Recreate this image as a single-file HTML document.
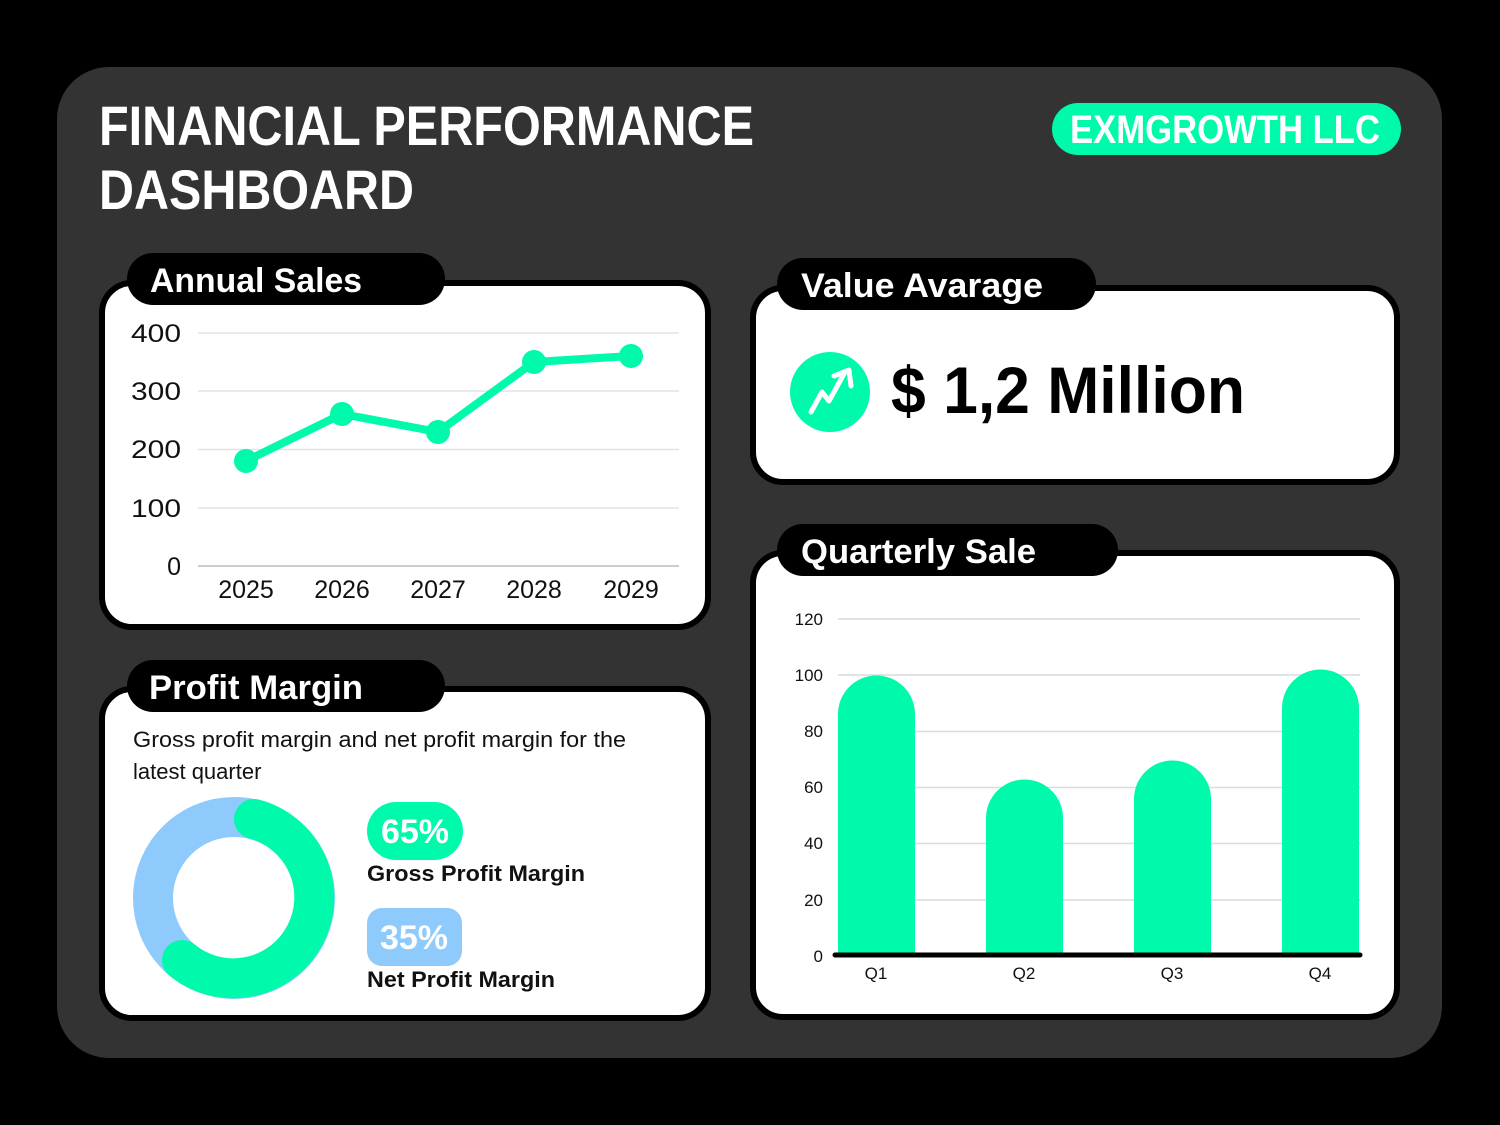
<!DOCTYPE html>
<html><head><meta charset="utf-8"><style>
html,body{margin:0;padding:0;background:#000;}
svg{display:block}
text{font-family:"Liberation Sans",sans-serif;}
</style></head><body>
<svg width="1500" height="1125" viewBox="0 0 1500 1125" xmlns="http://www.w3.org/2000/svg">
<rect x="0" y="0" width="1500" height="1125" fill="#000"/>
<rect x="57" y="67" width="1385" height="991" rx="52" fill="#333333"/>
<!-- header -->
<text x="99" y="145" fill="#fff" font-size="56" font-weight="bold" textLength="655" lengthAdjust="spacingAndGlyphs">FINANCIAL PERFORMANCE</text>
<text x="99" y="209" fill="#fff" font-size="56" font-weight="bold" textLength="315" lengthAdjust="spacingAndGlyphs">DASHBOARD</text>
<rect x="1052" y="103" width="349" height="52" rx="26" fill="#00faab"/>
<text x="1070" y="143" fill="#fff" font-size="40" font-weight="bold" textLength="310" lengthAdjust="spacingAndGlyphs">EXMGROWTH LLC</text>

<!-- Annual Sales card -->
<rect x="102" y="283" width="606" height="344" rx="30" fill="#fff" stroke="#000" stroke-width="6"/>
<rect x="127" y="253" width="318" height="52" rx="26" fill="#000"/>
<text x="150" y="292" fill="#fff" font-size="34" font-weight="bold" textLength="212" lengthAdjust="spacingAndGlyphs">Annual Sales</text>
<g stroke="#e3e3e3" stroke-width="1.5">
<line x1="198" y1="333" x2="679" y2="333"/>
<line x1="198" y1="391" x2="679" y2="391"/>
<line x1="198" y1="449.5" x2="679" y2="449.5"/>
<line x1="198" y1="508" x2="679" y2="508"/>
</g>
<line x1="198" y1="566" x2="679" y2="566" stroke="#bbb" stroke-width="1.5"/>
<g fill="#111" font-size="25" text-anchor="end">
<text x="181" y="342" textLength="50" lengthAdjust="spacingAndGlyphs">400</text><text x="181" y="400" textLength="50" lengthAdjust="spacingAndGlyphs">300</text><text x="181" y="458" textLength="50" lengthAdjust="spacingAndGlyphs">200</text><text x="181" y="517" textLength="50" lengthAdjust="spacingAndGlyphs">100</text><text x="181" y="575">0</text>
</g>
<g fill="#111" font-size="25" text-anchor="middle">
<text x="246" y="598">2025</text><text x="342" y="598">2026</text><text x="438" y="598">2027</text><text x="534" y="598">2028</text><text x="631" y="598">2029</text>
</g>
<polyline points="246,461 342,414 438,432 534,362 631,356" fill="none" stroke="#00faab" stroke-width="8" stroke-linejoin="round"/>
<g fill="#00faab">
<circle cx="246" cy="461" r="12"/><circle cx="342" cy="414" r="12"/><circle cx="438" cy="432" r="12"/><circle cx="534" cy="362" r="12"/><circle cx="631" cy="356" r="12"/>
</g>

<!-- Profit Margin card -->
<rect x="102" y="689" width="606" height="329" rx="30" fill="#fff" stroke="#000" stroke-width="6"/>
<rect x="127" y="660" width="318" height="52" rx="26" fill="#000"/>
<text x="149" y="699" fill="#fff" font-size="34" font-weight="bold" textLength="214" lengthAdjust="spacingAndGlyphs">Profit Margin</text>
<text x="133" y="747" fill="#111" font-size="22" textLength="493" lengthAdjust="spacingAndGlyphs">Gross profit margin and net profit margin for the</text>
<text x="133" y="779" fill="#111" font-size="22">latest quarter</text>
<circle cx="234" cy="898" r="81" fill="none" stroke="#8ecafc" stroke-width="40"/>
<path d="M 254 819 A 81 81 0 1 1 182 960" fill="none" stroke="#00faab" stroke-width="40" stroke-linecap="round"/>
<rect x="367" y="802" width="96" height="58" rx="29" fill="#00faab"/>
<text x="415" y="843" fill="#fff" font-size="34" font-weight="bold" text-anchor="middle">65%</text>
<text x="367" y="881" fill="#111" font-size="22" font-weight="bold" textLength="218" lengthAdjust="spacingAndGlyphs">Gross Profit Margin</text>
<rect x="367" y="908" width="95" height="58" rx="15" fill="#8ecafc"/>
<text x="414" y="949" fill="#fff" font-size="34" font-weight="bold" text-anchor="middle">35%</text>
<text x="367" y="987" fill="#111" font-size="22" font-weight="bold" textLength="188" lengthAdjust="spacingAndGlyphs">Net Profit Margin</text>

<!-- Value card -->
<rect x="753" y="288" width="644" height="194" rx="30" fill="#fff" stroke="#000" stroke-width="6"/>
<rect x="777" y="258" width="319" height="52" rx="26" fill="#000"/>
<text x="801" y="297" fill="#fff" font-size="34" font-weight="bold" textLength="242" lengthAdjust="spacingAndGlyphs">Value Avarage</text>
<circle cx="830" cy="392" r="40" fill="#00faab"/>
<polyline points="811,412 822,392 829,401 845,372" fill="none" stroke="#fff" stroke-width="5" stroke-linecap="round" stroke-linejoin="round"/>
<polyline points="834,376 849,370 851,386" fill="none" stroke="#fff" stroke-width="5" stroke-linecap="round" stroke-linejoin="round"/>
<text x="891" y="413" fill="#000" font-size="66" font-weight="bold" textLength="354" lengthAdjust="spacingAndGlyphs">$ 1,2 Million</text>

<!-- Quarterly card -->
<rect x="753" y="553" width="644" height="464" rx="30" fill="#fff" stroke="#000" stroke-width="6"/>
<rect x="777" y="524" width="341" height="52" rx="26" fill="#000"/>
<text x="801" y="563" fill="#fff" font-size="34" font-weight="bold" textLength="235" lengthAdjust="spacingAndGlyphs">Quarterly Sale</text>
<g stroke="#dcdcdc" stroke-width="1.5">
<line x1="838" y1="619" x2="1360" y2="619"/>
<line x1="838" y1="675" x2="1360" y2="675"/>
<line x1="838" y1="731.5" x2="1360" y2="731.5"/>
<line x1="838" y1="787.5" x2="1360" y2="787.5"/>
<line x1="838" y1="843.5" x2="1360" y2="843.5"/>
<line x1="838" y1="900" x2="1360" y2="900"/>
</g>
<g fill="#111" font-size="17" text-anchor="end">
<text x="823" y="625">120</text><text x="823" y="681">100</text><text x="823" y="737">80</text><text x="823" y="793">60</text><text x="823" y="849">40</text><text x="823" y="906">20</text><text x="823" y="962">0</text>
</g>
<g fill="#00faab">
<path d="M838 955 V714 A38.5 38.5 0 0 1 915 714 V955 Z"/>
<path d="M986 955 V818 A38.5 38.5 0 0 1 1063 818 V955 Z"/>
<path d="M1134 955 V799 A38.5 38.5 0 0 1 1211 799 V955 Z"/>
<path d="M1282 955 V708 A38.5 38.5 0 0 1 1359 708 V955 Z"/>
</g>
<line x1="835" y1="955" x2="1360" y2="955" stroke="#000" stroke-width="5" stroke-linecap="round"/>
<g fill="#111" font-size="17" text-anchor="middle">
<text x="876" y="979">Q1</text><text x="1024" y="979">Q2</text><text x="1172" y="979">Q3</text><text x="1320" y="979">Q4</text>
</g>
</svg>
</body></html>
